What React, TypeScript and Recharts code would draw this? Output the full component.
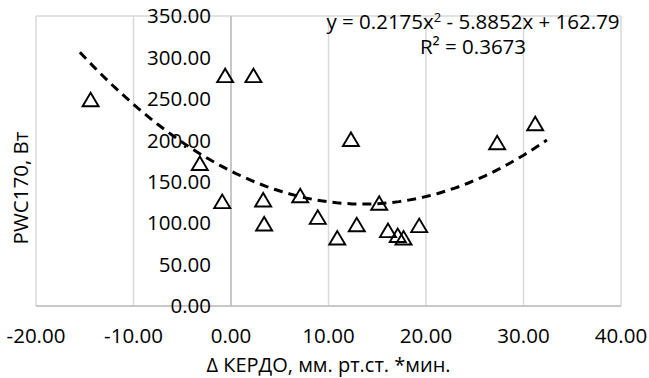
import { CartesianGrid, Label, ReferenceDot, ReferenceLine, Scatter, ScatterChart, XAxis, YAxis } from 'recharts'

// ΔКЕРДО (x) vs PWC170 (y), one entry per subject
const kerdo = [-14.4, -0.6, 2.3, -3.2, -0.9, 3.3, 3.4, 7.1, 8.9, 10.9, 12.9, 15.2, 16.1, 17.1, 17.7, 19.3, 12.3, 27.3, 31.2]
const pwc170 = [249, 278, 278, 172, 126, 128, 99, 133, 107, 82, 98, 124, 91, 85, 82, 97, 201, 197, 220]

// polynomial trendline printed on the chart: y = a*x^2 + b*x + c
const trendCoef = [0.2175, -5.8852, 162.79]
const trendRange = [-15.5, 32.4]

const xTicks = [-20, -10, 0, 10, 20, 30, 40]
const yTicks = [0, 50, 100, 150, 200, 250, 300, 350]

const FONT = '"Open Sans", sans-serif'
const FS = 20.5

const points = kerdo.map((x, i) => ({ x, y: pwc170[i] }))

function buildTrend() {
  const [a, b, c] = trendCoef
  const out: { x: number; y: number }[] = []
  const steps = 60
  for (let i = 0; i <= steps; i++) {
    const x = trendRange[0] + ((trendRange[1] - trendRange[0]) * i) / steps
    out.push({ x, y: a * x * x + b * x + c })
  }
  return out
}

function Triangle(props: any) {
  const { cx, cy } = props
  if (cx == null || cy == null) return null
  const pts = `${cx},${cy - 7} ${cx - 8},${cy + 6.5} ${cx + 8},${cy + 6.5}`
  return <polygon points={pts} fill="none" stroke="#000" strokeWidth={1.9} strokeLinejoin="miter" />
}

const fmt = (v: number) => v.toFixed(2)

export default function App() {
  const trend = buildTrend()

  return (
    <div style={{ position: 'absolute', left: 0, top: 0, width: 649, height: 378, background: '#fff', fontFamily: FONT }}>
      <ScatterChart width={649} height={378} margin={{ top: 16, right: 28, left: 36, bottom: 30 }}>
        <CartesianGrid stroke="#d9d9d9" strokeWidth={1.5} />
        <XAxis
          type="number"
          dataKey="x"
          domain={[-20, 40]}
          ticks={xTicks}
          tickFormatter={fmt}
          axisLine={{ stroke: '#bfbfbf', strokeWidth: 1.5 }}
          tickLine={false}
          tickMargin={16}
          height={42}
          tick={{ fill: '#000', fontSize: FS, fontFamily: FONT }}
          interval={0}
        >
          <Label
            value="Δ КЕРДО, мм. рт.ст. *мин."
            position="insideBottom"
            offset={-24}
            style={{ fill: '#000', fontSize: FS - 0.5, fontFamily: FONT }}
          />
        </XAxis>
        <YAxis type="number" dataKey="y" domain={[0, 350]} ticks={yTicks} width={0} tick={false} axisLine={false} tickLine={false} />
        <ReferenceLine x={0} stroke="#bfbfbf" strokeWidth={1.5} />
        {yTicks.map((t) => (
          <ReferenceDot
            key={t}
            x={0}
            y={t}
            r={0}
            fill="none"
            stroke="none"
            label={{ value: fmt(t), position: 'left', offset: 20, fill: '#000', fontSize: FS, fontFamily: FONT }}
          />
        ))}
        <Scatter
          data={trend}
          line={{ stroke: '#000', strokeWidth: 3, strokeDasharray: '9 6' }}
          shape={() => null}
          isAnimationActive={false}
        />
        <Scatter data={points} shape={<Triangle />} isAnimationActive={false} />
      </ScatterChart>

      <div
        style={{
          position: 'absolute',
          left: 4,
          top: 188,
          transform: 'translate(0, -50%) rotate(-90deg)',
          transformOrigin: 'center',
          fontSize: FS,
          whiteSpace: 'nowrap',
          color: '#000',
          width: 32,
          display: 'flex',
          justifyContent: 'center',
        }}
      >
        <span>PWC170, Вт</span>
      </div>

      <div
        style={{
          position: 'absolute',
          left: 318,
          top: 5,
          width: 310,
          textAlign: 'center',
          fontSize: FS,
          lineHeight: '25px',
          color: '#000',
        }}
      >
        <div>
          y = 0.2175x<sup style={{ fontSize: 13, verticalAlign: 7 }}>2</sup> - 5.8852x + 162.79
        </div>
        <div>R² = 0.3673</div>
      </div>
    </div>
  )
}
